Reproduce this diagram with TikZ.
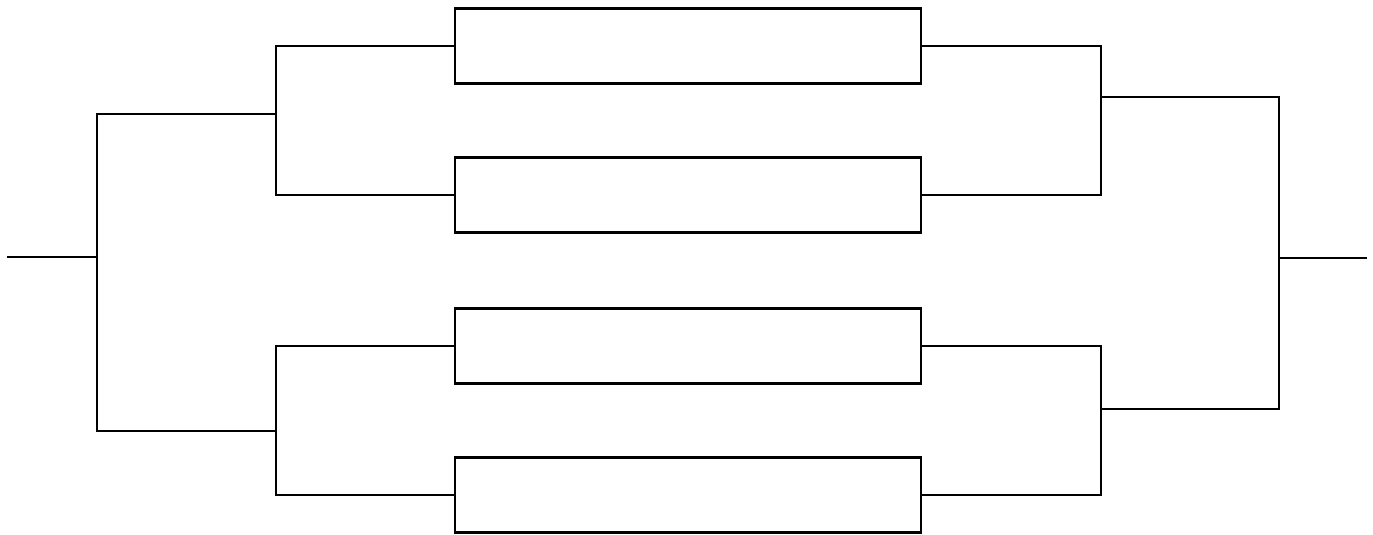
\documentclass[tikz,border=0pt]{standalone}
\begin{document}
\begin{tikzpicture}[x=1pt,y=-1pt,line width=2.6pt,line join=miter,
  box/.style={draw,rectangle,minimum width=466pt,minimum height=75pt,inner sep=0pt,outer sep=0pt},
  wire/.style={draw}]
\useasboundingbox (0,0) rectangle (1373,535);
% match boxes
\node[box] (b1) at (688,46) {};
\node[box] (b2) at (688,195) {};
\node[box] (b3) at (688,346) {};
\node[box] (b4) at (688,495) {};
% left side junctions
\coordinate (lt) at (276,114);
\coordinate (lb) at (276,431);
\coordinate (ltt) at (97,114);
\coordinate (lbb) at (97,431);
\coordinate (lin) at (97,257);
\coordinate (lend) at (7,257);
% right side junctions
\coordinate (rt) at (1101,97);
\coordinate (rb) at (1101,409);
\coordinate (rtt) at (1279,97);
\coordinate (rbb) at (1279,409);
\coordinate (rin) at (1279,258);
\coordinate (rend) at (1367,258);
% left connectors
\draw[wire] (b1.west) -| (lt) |- (b2.west);
\draw[wire] (b3.west) -| (lb) |- (b4.west);
\draw[wire] (lt) -- (ltt) -- (lbb) -- (lb);
\draw[wire] (lin) -- (lend);
% right connectors
\draw[wire] (b1.east) -| (rt) |- (b2.east);
\draw[wire] (b3.east) -| (rb) |- (b4.east);
\draw[wire] (rt) -- (rtt) -- (rbb) -- (rb);
\draw[wire] (rin) -- (rend);
\end{tikzpicture}
\end{document}
